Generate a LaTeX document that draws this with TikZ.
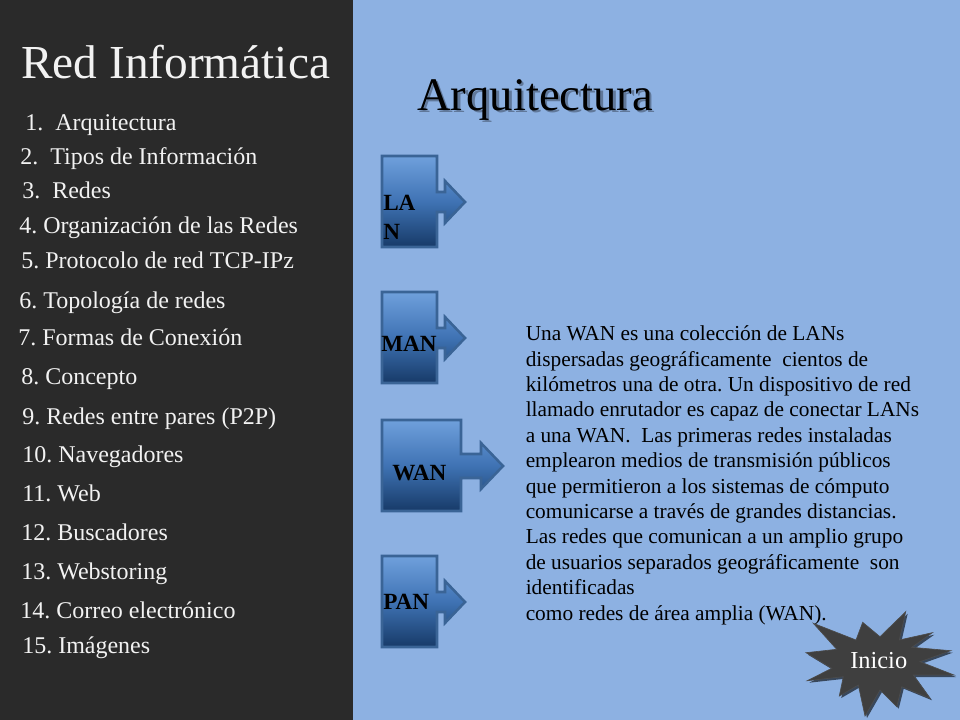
\documentclass[tikz,border=0pt]{standalone}
\usepackage{fontspec}
\setmainfont{Liberation Serif}
\frenchspacing
\definecolor{panelgray}{HTML}{2A2A2A}
\definecolor{slideblue}{HTML}{8DB1E2}
\definecolor{boxedge}{HTML}{3A6496}
\definecolor{boxtop}{HTML}{6FA0DC}
\definecolor{boxmid}{HTML}{3F73B4}
\definecolor{boxlow}{HTML}{173A68}
\definecolor{menutext}{HTML}{F2F2F2}
\definecolor{stargray}{HTML}{3F3F3F}
\tikzset{
    menuitem/.style={anchor=base west, inner sep=0pt, text=menutext, font=\fontsize{18pt}{20pt}\selectfont},
    boxlabel/.style={anchor=base west, inner sep=0pt, font=\fontsize{17.4pt}{20.5pt}\selectfont\bfseries, text=black},
    callout/.style={draw=boxedge, line width=1.9pt, line join=miter, top color=boxtop, bottom color=boxlow, middle color=boxmid},
    headtext/.style={anchor=base west, inner sep=0pt, font=\fontsize{35pt}{40pt}\selectfont},
}
\begin{document}
\begin{tikzpicture}[x=0.75pt, y=-0.75pt]
    \useasboundingbox (0,0) rectangle (960,720);
    \fill[slideblue] (0,0) rectangle (960,720);
    \fill[panelgray] (0,0) rectangle (353,720);

    % left menu
    \node[menuitem, font=\fontsize{35.5pt}{40pt}\selectfont] (redtitle) at (21,79) {Red Informática};
    \node[menuitem] (item1)  at (25,131) {1.\ \ Arquitectura};
    \node[menuitem] (item2)  at (20,165) {2.\ \ Tipos de Información};
    \node[menuitem] (item3)  at (22,199) {3.\ \ Redes};
    \node[menuitem] (item4)  at (19,234) {4. Organización de las Redes};
    \node[menuitem] (item5)  at (21,269) {5. Protocolo de red TCP-IPz};
    \node[menuitem] (item6)  at (19,308) {6. Topología de redes};
    \node[menuitem] (item7)  at (18,345) {7. Formas de Conexión};
    \node[menuitem] (item8)  at (21,384) {8. Concepto};
    \node[menuitem] (item9)  at (22,424) {9. Redes entre pares (P2P)};
    \node[menuitem] (item10) at (22,462) {10. Navegadores};
    \node[menuitem] (item11) at (22,501) {11. Web};
    \node[menuitem] (item12) at (21,540) {12. Buscadores};
    \node[menuitem] (item13) at (21,579) {13. Webstoring};
    \node[menuitem] (item14) at (20,618) {14. Correo electrónico};
    \node[menuitem] (item15) at (22,653) {15. Imágenes};

    % heading
    \node[headtext, text=black!32!slideblue] (headshadow) at (419.5,113) {Arquitectura};
    \node[headtext, text=black] (heading) at (417,110.5) {Arquitectura};

    % right arrow callouts
    \draw[callout] (382,156) -- (437,156) -- (437,192) -- (445,192) -- (445,181) -- (465,202) -- (445,223) -- (445,212) -- (437,212) -- (437,247) -- (382,247) -- cycle;
    \draw[callout] (382,292) -- (437,292) -- (437,328) -- (445,328) -- (445,317) -- (465,338) -- (445,359) -- (445,348) -- (437,348) -- (437,383) -- (382,383) -- cycle;
    \draw[callout] (382,420) -- (461,420) -- (461,454) -- (481,454) -- (481,443) -- (503,466) -- (481,489) -- (481,478) -- (461,478) -- (461,511) -- (382,511) -- cycle;
    \draw[callout] (382,556) -- (437,556) -- (437,592) -- (445,592) -- (445,581) -- (465,602) -- (445,623) -- (445,612) -- (437,612) -- (437,647) -- (382,647) -- cycle;

    \node[boxlabel] (lan1) at (383,211) {LA};
    \node[boxlabel] (lan2) at (383,240) {N};
    \node[boxlabel] (man) at (381,351) {MAN};
    \node[boxlabel] (wan) at (392,480) {WAN};
    \node[boxlabel] (pan) at (383,609) {PAN};

    % text of the WAN
    \node[anchor=north west, inner sep=0pt, align=left, font=\fontsize{16pt}{19.05pt}\selectfont] (wantext) at (525.5,325.5) {Una WAN es una colección de LANs\\
        dispersadas geográficamente\ \ cientos de\\
        kilómetros una de otra. Un dispositivo de red\\
        llamado enrutador es capaz de conectar LANs\\
        a una WAN.\ \ Las primeras redes instaladas\\
        emplearon medios de transmisión públicos\\
        que permitieron a los sistemas de cómputo\\
        comunicarse a través de grandes distancias.\\
        Las redes que comunican a un amplio grupo\\
        de usuarios separados geográficamente\ \ son\\
        identificadas\\
        como redes de área amplia (WAN).};

    % star button
    \fill[black!60!slideblue, xshift=1.5pt, yshift=-1.5pt]
        (905.7,611.7) -- (899.3,640) -- (932.3,632.7) -- (911.7,647.3) -- (950.7,650.7) -- (920,661.7) -- (954,675) -- (913.3,675) -- (930,698.3) -- (901.7,686.7) -- (896.7,706.7) -- (880,690) -- (865,716) -- (858.3,685) -- (839.3,696) -- (843.3,676.7) -- (807.3,680.7) -- (831.7,668.3) -- (806,652.7) -- (836.7,649.3) -- (813.3,623.3) -- (856,640) -- (862.7,622.3) -- (880,636.7) -- cycle;
    \fill[stargray, draw=black!70, line width=0.5pt]
        (905.7,611.7) -- (899.3,640) -- (932.3,632.7) -- (911.7,647.3) -- (950.7,650.7) -- (920,661.7) -- (954,675) -- (913.3,675) -- (930,698.3) -- (901.7,686.7) -- (896.7,706.7) -- (880,690) -- (865,716) -- (858.3,685) -- (839.3,696) -- (843.3,676.7) -- (807.3,680.7) -- (831.7,668.3) -- (806,652.7) -- (836.7,649.3) -- (813.3,623.3) -- (856,640) -- (862.7,622.3) -- (880,636.7) -- cycle;
    \node[anchor=base west, inner sep=0pt, text=white, font=\fontsize{18.3pt}{20pt}\selectfont] (inicio) at (850,668) {Inicio};
\end{tikzpicture}
\end{document}
